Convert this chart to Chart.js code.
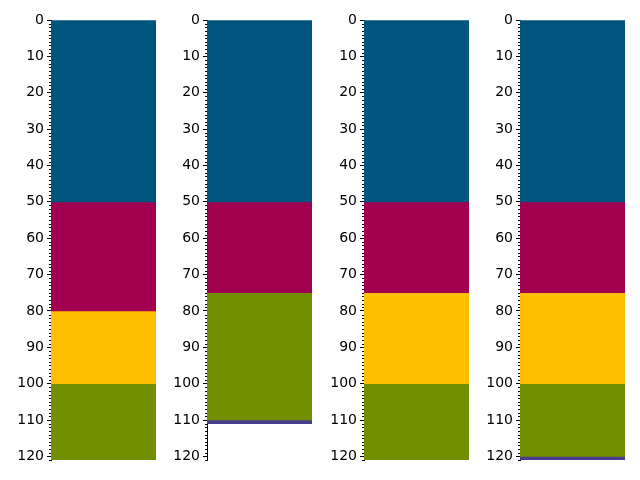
<!DOCTYPE html>
<html>
<head>
<meta charset="utf-8">
<script src="https://cdn.jsdelivr.net/npm/chart.js@4/dist/chart.umd.min.js"></script>
<style>
  body { margin: 0; background: #fff; }
  canvas { position: absolute; top: 0; }
</style>
</head>
<body>
<canvas id="c0" width="156" height="480" style="left:0px"></canvas>
<canvas id="c1" width="156" height="480" style="left:156px"></canvas>
<canvas id="c2" width="156" height="480" style="left:313px"></canvas>
<canvas id="c3" width="156" height="480" style="left:469px"></canvas>
<script>
// layer thicknesses per well, top to bottom
const layerColors = ['#00557f', '#a0004f', '#ffbf00', '#728f00', '#483d8b'];
const well1 = [50, 30, 20, 21, 0];
const well2 = [50, 25, 0, 35, 1];
const well3 = [50, 25, 25, 21, 0];
const well4 = [50, 25, 25, 20, 1.2];
const wells = [well1, well2, well3, well4];
const depthTicks = [0, 10, 20, 30, 40, 50, 60, 70, 80, 90, 100, 110, 120];
const depthMax = 121;

const minorTicks = {
    id: 'minorTicks',
    afterDraw(chart) {
        const y = chart.scales.y;
        const ctx = chart.ctx;
        const x0 = chart.chartArea.left;
        ctx.save();
        ctx.strokeStyle = '#000';
        ctx.lineWidth = 1;
        ctx.beginPath();
        for (let v = 0; v <= depthMax; v++) {
            if (v % 10 === 0) continue;
            const py = Math.round(y.getPixelForValue(v)) + 0.5;
            ctx.moveTo(x0, py);
            ctx.lineTo(x0 - 2, py);
        }
        ctx.stroke();
        ctx.restore();
    }
};

wells.forEach(function (well, i) {
    new Chart('c' + i, {
        type: 'bar',
        data: {
            labels: [''],
            datasets: well.map(function (t, k) {
                return {
                    data: [t],
                    backgroundColor: layerColors[k],
                    borderWidth: 0,
                    barPercentage: 1,
                    categoryPercentage: 1
                };
            })
        },
        options: {
            responsive: false,
            animation: false,
            layout: { padding: { top: 20, bottom: 20, left: 0, right: 0 } },
            plugins: { legend: { display: false }, tooltip: { enabled: false } },
            scales: {
                x: { display: false, stacked: true },
                y: {
                    stacked: true,
                    reverse: true,
                    min: 0,
                    max: depthMax,
                    afterBuildTicks: function (scale) {
                        scale.ticks = depthTicks.map(function (v) { return { value: v }; });
                    },
                    afterFit: function (scale) { scale.width = 51; },
                    grid: { drawOnChartArea: false, tickLength: 4, color: '#000' },
                    border: { display: true, color: '#000', width: 1 },
                    ticks: {
                        color: '#000',
                        padding: 3,
                        font: { family: 'DejaVu Sans', size: 14 }
                    }
                }
            }
        },
        plugins: [minorTicks]
    });
});
</script>
</body>
</html>
